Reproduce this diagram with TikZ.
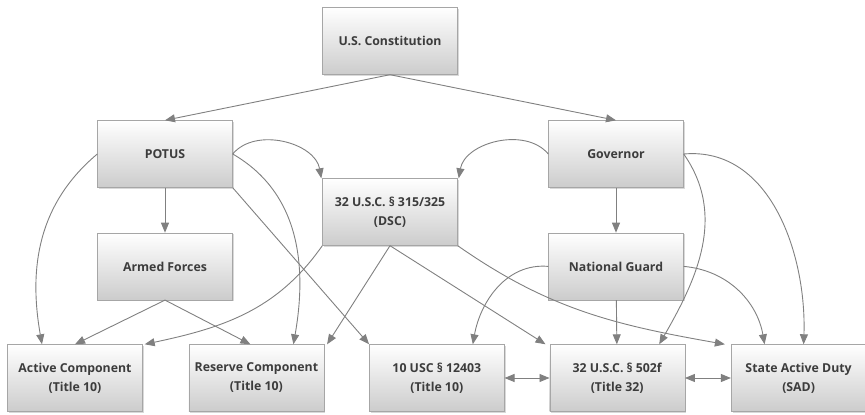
\documentclass[tikz,border=0pt]{standalone}
\usepackage{fontspec}
\setmainfont{Open Sans}
\usepackage{tikz}
\usetikzlibrary{positioning,arrows.meta,shadows}

\definecolor{boxline}{HTML}{A6A6A6}
\definecolor{linkgray}{HTML}{808080}
\definecolor{txtgray}{HTML}{3C3C3C}

\begin{document}
\begin{tikzpicture}[x=1pt,y=1pt,node distance=45pt,
  orgbox/.style={draw=boxline,top color=white,bottom color=black!20,minimum width=135pt,minimum height=67pt,inner sep=2pt,align=center,text=txtgray,font=\fontsize{12.3}{19}\selectfont\bfseries,drop shadow={shadow xshift=1.5pt,shadow yshift=-1.5pt,opacity=0.3}},
  conn/.style={draw=linkgray,line width=0.9pt,-{Triangle[length=10pt,width=8pt]}},
  both/.style={{Triangle[length=10pt,width=8pt]}-{Triangle[length=10pt,width=8pt]}}]
  \useasboundingbox (0,0) rectangle (865,415);
  % top part
  \node[orgbox] (Const) at (390,374) {U.S. Constitution};
  \node[orgbox] (POTUS) at (165,261) {POTUS};
  \node[orgbox] (Gov) at (616,261) {Governor};
  \node[orgbox] (DSC) at (390,203) {32 U.S.C. § 315/325\\(DSC)};
  \node[orgbox,below = of POTUS] (AF) {Armed Forces};
  \node[orgbox,below = of Gov] (NG) {National Guard};
  % bottom row
  \node[orgbox] (AC) at (75,37) {Active Component\\(Title 10)};
  \node[orgbox,right = 46pt of AC] (RC) {Reserve Component\\(Title 10)};
  \node[orgbox,right = 45pt of RC] (T10) {10 USC § 12403\\(Title 10)};
  \node[orgbox,right = 45pt of T10] (T32) {32 U.S.C. § 502f\\(Title 32)};
  \node[orgbox,right = 46pt of T32] (SAD) {State Active Duty\\(SAD)};

  \draw[conn] (Const.south) -- (POTUS.north);
  \draw[conn] (Const.south) -- (Gov.north);
  \draw[conn] (POTUS) -- (AF);
  \draw[conn] (Gov) -- (NG);
  \draw[conn] (POTUS.east) to[out=50,in=100] ([xshift=-1pt]DSC.north west);
  \draw[conn] (Gov.west) to[out=130,in=80] ([xshift=1pt]DSC.north east);
  % POTUS
  \draw[conn] (POTUS.west) to[out=220,in=100] ([xshift=-33pt]AC.north);
  \draw[conn] (POTUS.east) to[out=-30,in=80] ([xshift=37pt]RC.north);
  \draw[conn] (POTUS.south east) -- (T10.north west);
  \draw[conn] (AF.south) -- (AC.north);
  \draw[conn] (AF.south) -- ([xshift=-6pt]RC.north);
  % DSC
  \draw[conn] (DSC.south west) to[out=235,in=12] ([xshift=2pt]AC.north east);
  \draw[conn] (DSC.south) -- ([xshift=3pt]RC.north east);
  \draw[conn] (DSC.south) -- ([xshift=-4pt]T32.north west);
  \draw[conn] (DSC.south east) to[out=-35,in=170] ([xshift=-6pt]SAD.north west);
  % Governor / Guard
  \draw[conn] (NG.west) to[out=175,in=80] ([xshift=36pt]T10.north);
  \draw[conn] (NG) -- (T32);
  \draw[conn] (NG.east) to[out=-5,in=100] ([xshift=-34pt]SAD.north);
  \draw[conn] (Gov.east) to[out=-55,in=60] ([xshift=42pt]T32.north);
  \draw[conn] (Gov.east) to[out=5,in=88] ([xshift=5pt]SAD.north);
  \draw[conn,both] (T10) -- (T32);
  \draw[conn,both] (T32) -- (SAD);
\end{tikzpicture}
\end{document}
